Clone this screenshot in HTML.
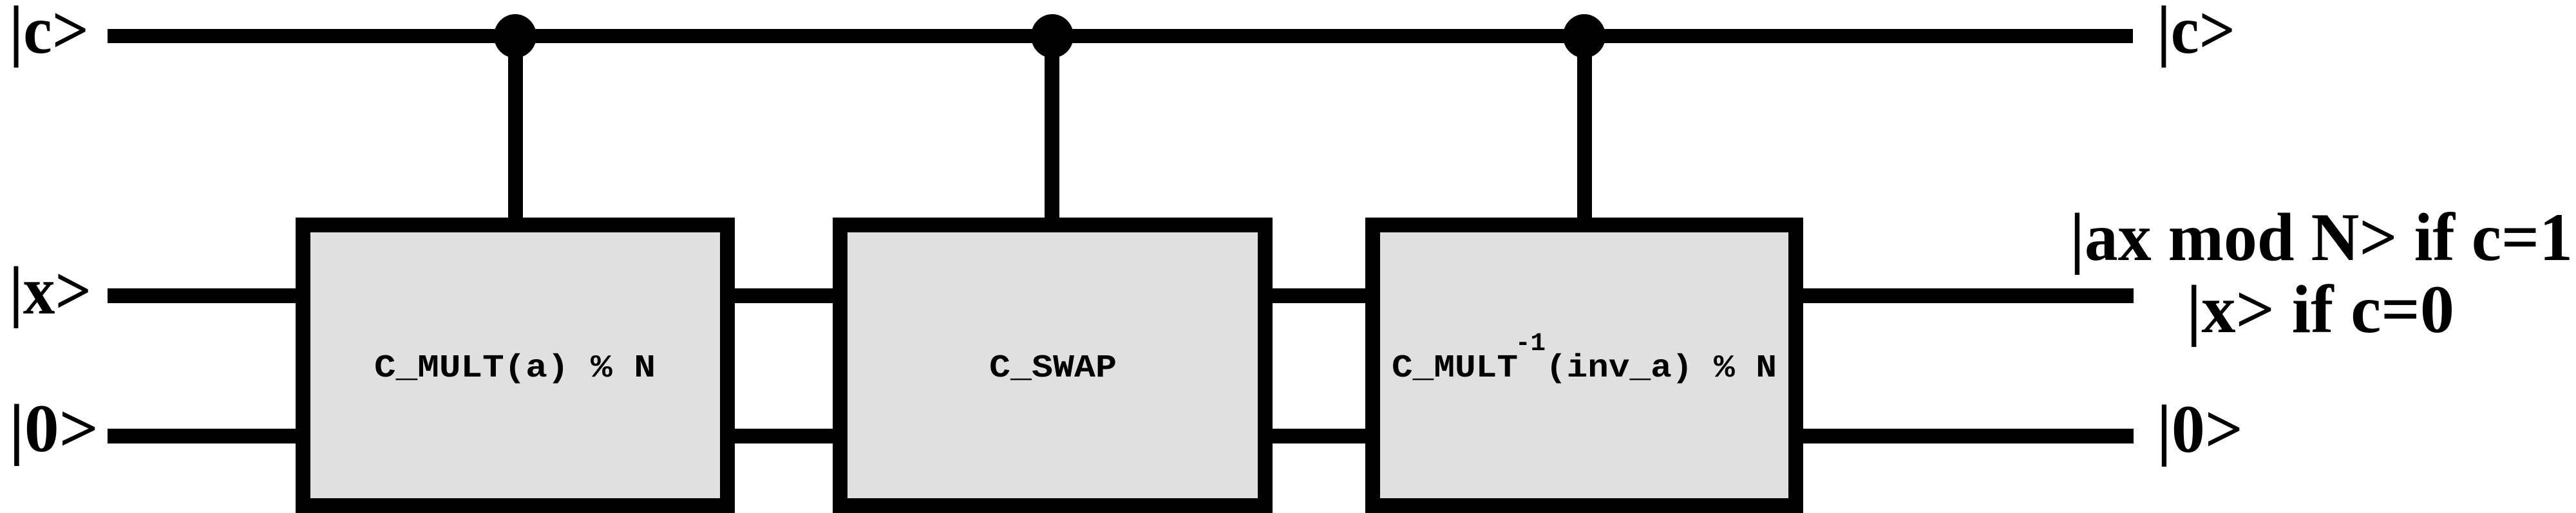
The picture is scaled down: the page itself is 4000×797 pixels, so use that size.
<!DOCTYPE html>
<html><head><meta charset="utf-8">
<style>
html,body{margin:0;padding:0;background:#fff;}
svg{display:block;}
.s{font-family:"Liberation Serif",serif;font-weight:bold;font-size:106px;}
.m{font-family:"Liberation Mono",monospace;font-weight:bold;font-size:50px;}
</style></head><body>
<svg width="4000" height="797" viewBox="0 0 4000 797" xmlns="http://www.w3.org/2000/svg">
<rect width="4000" height="797" fill="#fff"/>
<!-- wires -->
<rect x="167" y="45" width="3145" height="22" fill="#000"/>
<rect x="167" y="448" width="3146" height="23" fill="#000"/>
<rect x="167" y="666" width="3146" height="23" fill="#000"/>
<!-- stems and dots -->
<rect x="789" y="56" width="23" height="290" fill="#000"/>
<rect x="1622" y="56" width="23" height="290" fill="#000"/>
<rect x="2449" y="56" width="23" height="290" fill="#000"/>
<ellipse cx="800" cy="56" rx="33" ry="34" fill="#000"/>
<ellipse cx="1634" cy="56" rx="33" ry="34" fill="#000"/>
<ellipse cx="2460" cy="56" rx="33" ry="34" fill="#000"/>
<!-- boxes -->
<rect x="470.5" y="349.5" width="659" height="436" fill="#e0e0e0" stroke="#000" stroke-width="23"/>
<rect x="1304.5" y="349.5" width="660" height="436" fill="#e0e0e0" stroke="#000" stroke-width="23"/>
<rect x="2131.5" y="349.5" width="657" height="436" fill="#e0e0e0" stroke="#000" stroke-width="23"/>
<!-- box text -->
<text class="m" x="581" y="585" textLength="437" lengthAdjust="spacingAndGlyphs">C_MULT(a) % N</text>
<text class="m" x="1536" y="585" textLength="198" lengthAdjust="spacingAndGlyphs">C_SWAP</text>
<text class="m" x="2161" y="585" textLength="196" lengthAdjust="spacingAndGlyphs">C_MULT</text>
<text class="m" x="2353" y="544" textLength="47" lengthAdjust="spacingAndGlyphs" style="font-size:40px">-1</text>
<text class="m" x="2400" y="585" textLength="359" lengthAdjust="spacingAndGlyphs">(inv_a) % N</text>
<!-- left labels -->
<text class="s" x="14" y="82" textLength="124" lengthAdjust="spacingAndGlyphs">|c&gt;</text>
<text class="s" x="14" y="487" textLength="128" lengthAdjust="spacingAndGlyphs">|x&gt;</text>
<text class="s" x="14" y="701" textLength="139" lengthAdjust="spacingAndGlyphs">|0&gt;</text>
<!-- right labels -->
<text class="s" x="3349" y="82" textLength="122" lengthAdjust="spacingAndGlyphs">|c&gt;</text>
<text class="s" x="3214" y="404" textLength="781" lengthAdjust="spacingAndGlyphs">|ax mod N&gt; if c=1</text>
<text class="s" x="3395" y="516" textLength="416" lengthAdjust="spacingAndGlyphs">|x&gt; if c=0</text>
<text class="s" x="3349" y="702" textLength="134" lengthAdjust="spacingAndGlyphs">|0&gt;</text>
</svg>
</body></html>
